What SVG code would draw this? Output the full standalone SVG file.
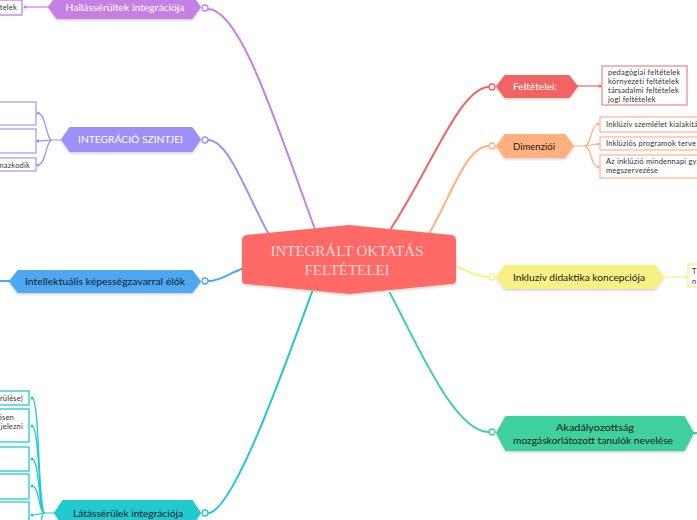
<svg xmlns="http://www.w3.org/2000/svg" width="697" height="520" viewBox="0 0 697 520">
<defs>
<filter id="sh" x="-10%" y="-30%" width="120%" height="170%">
<feDropShadow dx="0" dy="1.5" stdDeviation="1.2" flood-color="#000" flood-opacity="0.18"/>
</filter>
<style>
.lbl{font-family:Lato,"Noto Sans",sans-serif;font-size:9.5px;text-anchor:middle}
.sm{font-family:Lato,"Noto Sans",sans-serif;font-size:7.5px;fill:#333;letter-spacing:0.2px}
.hx{stroke-linejoin:round;stroke-width:2;filter:url(#sh)}
.box{fill:#fff;stroke-width:1.3}
.c{fill:none;stroke-width:2;stroke-linecap:round}
.cs{fill:none;stroke-width:1.2}
.ring{fill:#fff;stroke-width:1.3}
</style>
</defs>
<rect width="697" height="520" fill="#fff"/>

<g id="connectors">
<path class="c" stroke="#c67fe2" d="M208,9 C240,9 275,120 316,232"/>
<path class="c" stroke="#9d90f6" d="M208,140 C228,140 245,190 268,233"/>
<path class="c" stroke="#4ea7f1" d="M208,281 C222,281 230,272 245,268"/>
<path class="c" stroke="#22c9d1" d="M208,513 C232,513 280,380 312,292"/>
<path class="c" stroke="#f36363" d="M390,230 C430,170 460,87 489,87"/>
<path class="c" stroke="#ffb07e" d="M427,237 C450,200 465,146 489,146"/>
<path class="c" stroke="#f7f084" d="M455,266 C470,272 478,277 489,277"/>
<path class="c" stroke="#3fd09d" d="M390,293 C420,350 455,432 489,432"/>
<path class="c" stroke="#4ea7f1" d="M10,281 L0,281"/>
<path class="c" stroke="#3fd09d" d="M693,433 L697,433"/>
<path class="cs" stroke="#c67fe2" d="M49,7 L25,7"/>
<path class="cs" stroke="#9d90f6" d="M62,140 L52,140 C46,140 46,113 38,113 M52,140 C46,140 46,141 38,141 M52,140 C46,140 46,165 38,165"/>
<path class="cs" stroke="#22c9d1" d="M55,513 L45,513 C38,513 40,398 32,398 M45,513 C38,513 40,426 32,426 M45,513 C38,513 40,459 32,459 M45,513 C38,513 40,486 32,486 M45,513 C38,513 40,515 32,515 M45,513 C40,513 42,525 40,530"/>
<path class="cs" stroke="#f36363" d="M577,86 L601,86"/>
<path class="cs" stroke="#ffb07e" d="M573,146 L584,146 C592,146 590,124 599,124 M584,146 C592,146 590,144 599,144 M584,146 C592,146 590,167 599,167"/>
<path class="cs" stroke="#f7f084" d="M663,277 L688,277"/>
<g fill="#c67fe2"><circle cx="25" cy="7" r="1.5"/></g>
<g fill="#9d90f6"><circle cx="38" cy="113" r="1.5"/><circle cx="38" cy="141" r="1.5"/><circle cx="38" cy="165" r="1.5"/></g>
<g fill="#22c9d1"><circle cx="32" cy="398" r="1.5"/><circle cx="32" cy="426" r="1.5"/><circle cx="32" cy="459" r="1.5"/><circle cx="32" cy="486" r="1.5"/><circle cx="32" cy="515" r="1.5"/></g>
<g fill="#f36363"><circle cx="600" cy="86" r="1.5"/></g>
<g fill="#ffb07e"><circle cx="598" cy="124" r="1.5"/><circle cx="598" cy="144" r="1.5"/><circle cx="598" cy="167" r="1.5"/></g>
<g fill="#f7f084"><circle cx="686" cy="277" r="1.5"/></g>
</g>

<g id="center">
<path d="M246,235 L349,225 L452,235 Q456,236 456,240 L456,280 Q456,284 452,284 L349,294 L246,284 Q242,284 242,280 L242,240 Q242,236 246,235 Z" fill="#ff6b66" filter="url(#sh)"/>
<text x="347" y="256" font-family="'Liberation Serif',serif" font-size="15" fill="#ffd6d6" text-anchor="middle" textLength="153" lengthAdjust="spacingAndGlyphs">INTEGRÁLT OKTATÁS</text>
<text x="347" y="275" font-family="'Liberation Serif',serif" font-size="15" fill="#ffd6d6" text-anchor="middle" textLength="85" lengthAdjust="spacingAndGlyphs">FELTÉTELEI</text>
</g>

<g id="hallas">
<polygon class="hx" points="49,7 57,-4 192,-4 200,7 192,18 57,18" fill="#c67fe2" stroke="#c67fe2"/>
<text class="lbl" x="125" y="11" fill="#fff" textLength="119" lengthAdjust="spacingAndGlyphs">Hallássérültek integrációja</text>
<circle class="ring" cx="205" cy="8" r="3" stroke="#c67fe2"/>
</g>
<g id="hallas-c1">
<rect class="box" x="-2" y="0" width="24" height="15" stroke="#c67fe2"/>
<text class="sm" x="17" y="10" text-anchor="end">telek</text>
</g>

<g id="szintjei">
<polygon class="hx" points="62,139.5 70,128 192,128 200,139.5 192,151 70,151" fill="#9d90f6" stroke="#9d90f6"/>
<text class="lbl" x="130.5" y="143" fill="#fff" font-size="8.5" textLength="105" lengthAdjust="spacingAndGlyphs">INTEGRÁCIÓ SZINTJEI</text>
<circle class="ring" cx="205" cy="140" r="3" stroke="#9d90f6"/>
</g>
<g id="szintjei-c1"><rect class="box" x="-2" y="102" width="38" height="23" stroke="#a99ff5"/></g>
<g id="szintjei-c2"><rect class="box" x="-2" y="129" width="38" height="24" stroke="#a99ff5"/></g>
<g id="szintjei-c3"><rect class="box" x="-2" y="158" width="38" height="13" stroke="#a99ff5"/>
<text class="sm" x="30" y="167.5" text-anchor="end">mazkodik</text></g>

<g id="intellektualis">
<polygon class="hx" points="10,281.5 18,271 192,271 200,281.5 192,292 18,292" fill="#4ea7f1" stroke="#4ea7f1"/>
<text class="lbl" x="105" y="285" fill="#1a1a1a" textLength="160" lengthAdjust="spacingAndGlyphs">Intellektuális képességzavarral élők</text>
<circle class="ring" cx="205" cy="281" r="3" stroke="#4ea7f1"/>
</g>

<g id="latas">
<polygon class="hx" points="55,513 63,501 192,501 200,513 192,525 63,525" fill="#22c9d1" stroke="#22c9d1"/>
<text class="lbl" x="128" y="516.5" fill="#1a1a1a" textLength="110" lengthAdjust="spacingAndGlyphs">Látássérülek integrációja</text>
<circle class="ring" cx="205" cy="513" r="3" stroke="#22c9d1"/>
</g>
<g id="latas-c1"><rect class="box" x="-2" y="391" width="31" height="14" stroke="#22c9d1"/>
<text class="sm" x="23" y="400.5" text-anchor="end">rülése)</text></g>
<g id="latas-c2"><rect class="box" x="-2" y="409" width="31" height="33" stroke="#22c9d1"/>
<text class="sm" x="14" y="420" text-anchor="end">ősen</text>
<text class="sm" x="23" y="429" text-anchor="end">jelezni</text></g>
<g id="latas-c3"><rect class="box" x="-2" y="447" width="31" height="24" stroke="#22c9d1"/></g>
<g id="latas-c4"><rect class="box" x="-2" y="474" width="31" height="25" stroke="#22c9d1"/></g>
<g id="latas-c5"><rect class="box" x="-2" y="502" width="31" height="30" stroke="#22c9d1"/></g>

<g id="feltetelei">
<polygon class="hx" points="497,86.5 505,76 569,76 577,86.5 569,97 505,97" fill="#f36363" stroke="#f36363"/>
<text class="lbl" x="535" y="90" fill="#fff" textLength="44" lengthAdjust="spacingAndGlyphs">Feltételei:</text>
<circle class="ring" cx="492" cy="87" r="3" stroke="#f36363"/>
</g>
<g id="feltetelei-c1">
<rect class="box" x="602" y="66" width="85" height="39" stroke="#f58a8a"/>
<text class="sm" x="608" y="75">pedagógiai feltételek</text>
<text class="sm" x="608" y="84">környezeti feltételek</text>
<text class="sm" x="608" y="93">társadalmi feltételek</text>
<text class="sm" x="608" y="102">jogi feltételek</text>
</g>

<g id="dimenzioi">
<polygon class="hx" points="497,146 505,135 565,135 573,146 565,157 505,157" fill="#ffb07e" stroke="#ffb07e"/>
<text class="lbl" x="534" y="149.5" fill="#1a1a1a" textLength="42" lengthAdjust="spacingAndGlyphs">Dimenziói</text>
<circle class="ring" cx="492" cy="146" r="3" stroke="#ffb07e"/>
</g>
<g id="dimenzioi-c1"><rect class="box" x="600" y="117" width="110" height="15" stroke="#ffb99a"/>
<text class="sm" x="606" y="127">Inklúzív szemlélet kialakítá</text></g>
<g id="dimenzioi-c2"><rect class="box" x="600" y="137" width="110" height="13" stroke="#ffb99a"/>
<text class="sm" x="606" y="146">Inklúziós programok terve</text></g>
<g id="dimenzioi-c3"><rect class="box" x="600" y="155" width="110" height="23" stroke="#ffb99a"/>
<text class="sm" x="606" y="164">Az inklúzió mindennapi gya</text>
<text class="sm" x="606" y="173">megszervezése</text></g>

<g id="inkluziv">
<polygon class="hx" points="497,277 505,266 655,266 663,277 655,288 505,288" fill="#f7f084" stroke="#f7f084"/>
<text class="lbl" x="579" y="280.5" fill="#1a1a1a" textLength="132" lengthAdjust="spacingAndGlyphs">Inkluzív didaktika koncepciója</text>
<circle class="ring" cx="492" cy="277" r="3" stroke="#f7f084"/>
</g>
<g id="inkluziv-c1"><rect class="box" x="688" y="264" width="20" height="23" stroke="#f7f084"/>
<text class="sm" x="692" y="274">T</text>
<text class="sm" x="692" y="284">n</text></g>

<g id="akadalyozottsag">
<polygon class="hx" points="497,433 506,417 684,417 693,433 684,450 506,450" fill="#3fd09d" stroke="#3fd09d"/>
<text class="lbl" x="595" y="431" fill="#1a1a1a" textLength="78" lengthAdjust="spacingAndGlyphs">Akadályozottság</text>
<text class="lbl" x="593" y="443.5" fill="#1a1a1a" textLength="160" lengthAdjust="spacingAndGlyphs">mozgáskorlátozott tanulók nevelése</text>
<circle class="ring" cx="492" cy="432" r="3" stroke="#3fd09d"/>
</g>
</svg>
